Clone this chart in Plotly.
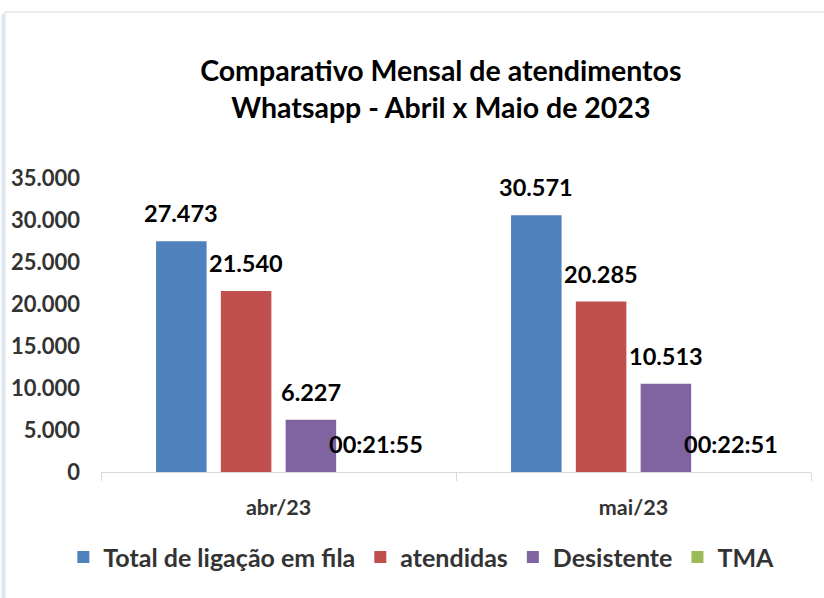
import plotly.graph_objects as go

categories = ["abr/23", "mai/23"]
series_names = ["Total de ligação em fila", "atendidas", "Desistente", "TMA"]
total_fila = [27473, 30571]
atendidas = [21540, 20285]
desistente = [6227, 10513]
tma_labels = ["00:21:55", "00:22:51"]
tma_values = [1315 / 86400, 1371 / 86400]  # durations as fraction of a day
colors = ["#4F81BD", "#C0504D", "#8064A2", "#9BBB59"]
tick_vals = [0, 5000, 10000, 15000, 20000, 25000, 30000, 35000]
tick_text = ["0", "5.000", "10.000", "15.000", "20.000", "25.000", "30.000", "35.000"]


def fmt(v):
    return f"{v:,}".replace(",", ".")


values = [total_fila, atendidas, desistente, tma_values]
labels = [[fmt(v) for v in total_fila], [fmt(v) for v in atendidas],
          [fmt(v) for v in desistente], tma_labels]

FONT = "Lato"
fig = go.Figure()
for name, vals, col in zip(series_names, values, colors):
    fig.add_trace(go.Bar(x=categories, y=vals, name=name, marker_color=col,
                         marker_line_width=0))

W, H = 824, 598
ml, mr, mt, mb = 101, 13, 178, 126
plot_w = W - ml - mr
plot_h = H - mt - mb
bargap = 0.27
slot = plot_w / len(categories) * (1 - bargap) / len(series_names)

annotations = []
for i, (vals, labs) in enumerate(zip(values, labels)):
    for j, cat in enumerate(categories):
        annotations.append(dict(
            x=cat, y=vals[j], text=labs[j], showarrow=False,
            xshift=(i - 1.5) * slot, yshift=28, yanchor="middle",
            font=dict(family=FONT, size=23.5, color="#000000", weight="bold"),
        ))

fig.update_layout(
    width=W, height=H,
    margin=dict(l=ml, r=mr, t=mt, b=mb),
    paper_bgcolor="white", plot_bgcolor="white",
    barmode="group", bargap=bargap, bargroupgap=0.22,
    title=dict(text="Comparativo Mensal de atendimentos<br>Whatsapp - Abril x Maio de 2023",
               x=0.535, xanchor="center", y=0.865, yanchor="middle",
               font=dict(family=FONT, size=28.5, color="#000000", weight="bold")),
    font=dict(family=FONT, color="#333333"),
    showlegend=True,
    legend=dict(orientation="h", x=-0.053, xanchor="left", y=-0.29, yanchor="middle",
                font=dict(family=FONT, size=25, color="#333333", weight="bold"),
                itemwidth=30, traceorder="normal"),
    annotations=annotations,
    shapes=[
        dict(type="rect", xref="paper", yref="paper",
             x0=(5 - ml) / plot_w, x1=(830 - ml) / plot_w,
             y0=(H - mb - 605) / plot_h, y1=(H - mb - 12) / plot_h,
             line=dict(color="#D9D9D9", width=1), layer="below"),
        dict(type="line", xref="paper", yref="paper",
             x0=(3 - ml) / plot_w, x1=(3 - ml) / plot_w,
             y0=(H - mb - 605) / plot_h, y1=(H - mb - 14) / plot_h,
             line=dict(color="#DCE6F4", width=3), layer="below"),
    ],
)
fig.update_xaxes(showgrid=False, showline=True, linecolor="#D9D9D9", linewidth=1,
                 ticks="outside", tickson="boundaries", ticklen=8, tickcolor="#D9D9D9",
                 tickfont=dict(family=FONT, size=21.5, color="#333333", weight="bold"),
                 ticklabelstandoff=16, automargin=False)
fig.update_yaxes(range=[0, 35000], tickvals=tick_vals, ticktext=tick_text,
                 showgrid=False, showline=False, zeroline=False,
                 tickfont=dict(family=FONT, size=22, color="#333333", weight="bold"),
                 ticks="", ticklabelstandoff=20, automargin=False)

fig.write_html("out.html", config={"displayModeBar": False},
               post_script="document.body.style.margin='0';")
